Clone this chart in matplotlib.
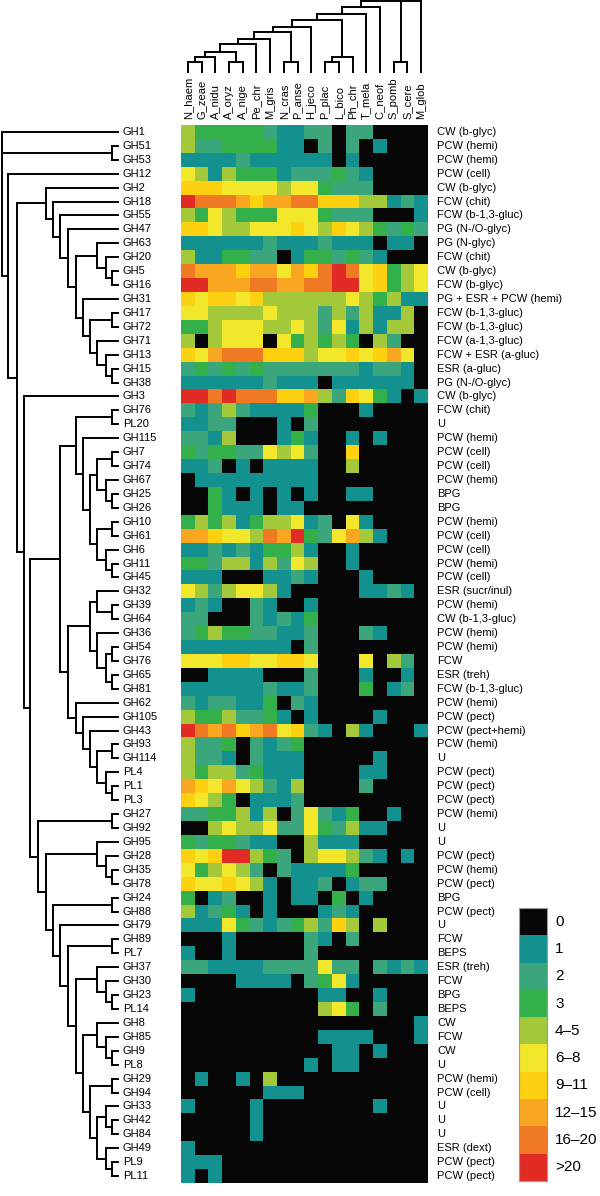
import numpy as np
import matplotlib
matplotlib.use("Agg")
import matplotlib.pyplot as plt
from matplotlib.colors import ListedColormap, BoundaryNorm
from matplotlib.transforms import blended_transform_factory

plt.rcParams['font.family'] = ['Liberation Sans', 'DejaVu Sans']

# --- DATA ---
species = ["N_haem", "G_zeae", "A_nidu", "A_oryz", "A_nige", "Pe_chr", "M_gris",
           "N_cras", "P_anse", "H_jeco", "P_plac", "L_bico", "Ph_chr", "T_mela",
           "C_neof", "S_pomb", "S_cere", "M_glob"]

families = ["GH1", "GH51", "GH53", "GH12", "GH2", "GH18", "GH55", "GH47", "GH63", "GH20",
            "GH5", "GH16", "GH31", "GH17", "GH72", "GH71", "GH13", "GH15", "GH38", "GH3",
            "GH76", "PL20", "GH115", "GH7", "GH74", "GH67", "GH25", "GH26", "GH10", "GH61",
            "GH6", "GH11", "GH45", "GH32", "GH39", "GH64", "GH36", "GH54", "GH76", "GH65",
            "GH81", "GH62", "GH105", "GH43", "GH93", "GH114", "PL4", "PL1", "PL3", "GH27",
            "GH92", "GH95", "GH28", "GH35", "GH78", "GH24", "GH88", "GH79", "GH89", "PL7",
            "GH37", "GH30", "GH23", "PL14", "GH8", "GH85", "GH9", "PL8", "GH29", "GH94",
            "GH33", "GH42", "GH84", "GH49", "PL9", "PL11"]

activities = ["CW (b-glyc)", "PCW (hemi)", "PCW (hemi)", "PCW (cell)", "CW (b-glyc)",
              "FCW (chit)", "FCW (b-1,3-gluc)", "PG (N-/O-glyc)", "PG (N-glyc)", "FCW (chit)",
              "CW (b-glyc)", "FCW (b-glyc)", "PG + ESR + PCW (hemi)", "FCW (b-1,3-gluc)",
              "FCW (b-1,3-gluc)", "FCW (a-1,3-gluc)", "FCW + ESR (a-gluc)", "ESR (a-gluc)",
              "PG (N-/O-glyc)", "CW (b-glyc)", "FCW (chit)", "U", "PCW (hemi)", "PCW (cell)",
              "PCW (cell)", "PCW (hemi)", "BPG", "BPG", "PCW (hemi)", "PCW (cell)",
              "PCW (cell)", "PCW (hemi)", "PCW (cell)", "ESR (sucr/inul)", "PCW (hemi)",
              "CW (b-1,3-gluc)", "PCW (hemi)", "PCW (hemi)", "FCW", "ESR (treh)",
              "FCW (b-1,3-gluc)", "PCW (hemi)", "PCW (pect)", "PCW (pect+hemi)", "PCW (hemi)",
              "U", "PCW (pect)", "PCW (pect)", "PCW (pect)", "PCW (hemi)", "U", "U",
              "PCW (pect)", "PCW (hemi)", "PCW (pect)", "BPG", "PCW (pect)", "U", "FCW",
              "BEPS", "ESR (treh)", "FCW", "BPG", "BEPS", "CW", "FCW", "CW", "U",
              "PCW (hemi)", "PCW (cell)", "U", "U", "U", "ESR (dext)", "PCW (pect)", "PCW (pect)"]

legend_labels = ["0", "1", "2", "3", "4–5", "6–8", "9–11", "12–15", "16–20", ">20"]
class_colors = ["#070707", "#13918f", "#3ba57c", "#34b04b", "#a3c93b",
                "#f2e72b", "#fdd010", "#f9a620", "#f07a23", "#e32b26"]

# gene count class per family (rows) and species (columns), 0..9 = legend bins
cell_class = [
    [4,3,3,3,3,3,2,1,1,2,2,0,2,2,0,0,0,0],  # GH1
    [4,2,2,3,3,3,3,1,1,0,2,0,2,0,1,0,0,0],  # GH51
    [1,1,1,1,2,1,1,1,1,1,1,0,1,0,0,0,0,0],  # GH53
    [5,4,1,4,3,3,3,1,2,2,2,3,2,1,0,0,0,0],  # GH12
    [6,6,6,5,5,5,5,4,5,5,3,2,2,2,0,0,0,0],  # GH2
    [9,8,8,8,7,6,7,7,8,8,6,6,6,4,4,1,2,1],  # GH18
    [4,3,5,4,3,3,3,5,5,5,3,2,2,2,0,0,0,1],  # GH55
    [6,6,5,4,4,5,5,5,6,5,4,6,5,4,3,2,3,2],  # GH47
    [1,1,1,1,1,1,2,1,1,1,2,1,1,1,0,1,1,0],  # GH63
    [4,1,1,3,3,2,2,0,1,3,3,2,3,2,1,0,0,0],  # GH20
    [8,7,7,7,6,7,7,5,7,6,8,9,8,5,6,3,4,5],  # GH5
    [9,9,7,7,7,8,8,7,7,8,8,9,9,5,6,3,4,5],  # GH16
    [6,5,6,6,5,6,4,4,4,4,4,4,5,4,3,4,1,1],  # GH31
    [5,5,4,4,4,4,5,4,4,4,2,4,2,4,1,1,4,0],  # GH17
    [3,3,4,5,5,5,4,4,5,4,2,5,1,4,1,4,4,0],  # GH72
    [4,0,4,5,5,5,0,5,3,4,3,4,3,0,4,2,0,0],  # GH71
    [6,5,7,8,8,8,6,6,6,4,5,5,6,5,6,7,5,0],  # GH13
    [2,3,2,3,2,3,2,2,2,2,2,2,2,1,2,2,1,0],  # GH15
    [1,1,1,1,1,1,2,1,1,1,0,1,1,1,1,1,1,0],  # GH38
    [9,9,8,9,8,8,8,6,6,7,4,2,6,5,3,1,0,1],  # GH3
    [2,1,2,4,2,1,1,1,1,3,0,0,0,1,0,0,0,0],  # GH76
    [1,1,2,2,0,0,0,1,0,2,0,0,0,0,0,0,0,0],  # PL20
    [2,2,1,4,0,0,0,1,3,1,0,0,1,0,1,0,0,0],  # GH115
    [3,2,3,3,2,2,5,4,5,2,0,0,6,0,0,0,0,0],  # GH7
    [1,1,2,0,1,0,1,1,1,1,0,0,4,0,0,0,0,0],  # GH74
    [0,1,1,1,1,1,1,1,1,1,0,0,0,0,0,0,0,0],  # GH67
    [0,0,3,1,0,1,0,1,0,1,0,0,1,1,0,0,0,0],  # GH25
    [0,0,3,1,1,1,0,1,1,0,0,0,0,0,0,0,0,0],  # GH26
    [3,4,3,4,1,3,4,4,5,1,2,0,5,1,0,0,0,0],  # GH10
    [7,7,6,5,5,4,8,7,9,3,2,5,7,4,1,0,0,0],  # GH61
    [1,1,2,1,2,1,3,3,4,1,0,0,1,0,0,0,0,0],  # GH6
    [3,3,2,4,4,1,4,2,5,4,0,0,1,0,0,0,0,0],  # GH11
    [1,1,1,0,0,0,1,1,2,1,0,0,0,1,0,0,0,0],  # GH45
    [5,4,2,4,5,5,4,1,0,0,0,0,0,1,1,2,1,0],  # GH32
    [1,2,1,0,0,2,1,0,0,1,0,0,0,0,0,0,0,0],  # GH39
    [2,2,0,0,0,2,1,2,1,3,0,0,0,0,0,0,0,0],  # GH64
    [2,3,4,3,3,2,2,1,1,2,0,0,0,2,1,0,0,0],  # GH36
    [1,1,1,1,1,1,1,1,0,2,0,0,0,0,0,0,0,0],  # GH54
    [5,5,5,6,6,5,5,6,6,5,0,0,0,5,0,4,2,0],  # GH76
    [0,0,1,1,1,1,0,0,0,2,0,0,0,1,0,0,1,0],  # GH65
    [1,1,1,1,1,1,2,1,1,2,0,0,0,3,0,1,2,0],  # GH81
    [2,1,2,2,1,1,3,0,2,1,0,0,0,0,0,0,0,0],  # GH62
    [4,3,3,4,2,2,3,1,0,1,0,0,0,0,1,0,0,0],  # GH105
    [9,8,7,8,6,7,8,5,6,2,1,0,4,1,0,0,0,1],  # GH43
    [4,2,2,3,0,2,1,2,3,0,0,0,0,0,0,0,0,0],  # GH93
    [4,2,2,1,0,2,1,1,1,0,0,0,0,0,1,0,0,0],  # GH114
    [4,3,4,4,2,3,1,1,1,0,0,0,0,1,1,0,0,0],  # PL4
    [7,6,5,7,5,4,2,1,4,0,0,0,0,2,0,0,0,0],  # PL1
    [6,5,4,3,0,1,1,1,2,0,0,0,0,0,0,0,0,0],  # PL3
    [2,2,3,3,4,1,4,0,2,5,2,1,3,0,0,1,0,0],  # GH27
    [0,0,4,5,4,4,5,2,2,5,3,2,4,1,1,0,0,0],  # GH92
    [3,2,3,3,2,1,1,0,0,4,1,1,1,0,0,0,0,0],  # GH95
    [6,5,6,9,9,4,3,2,0,4,5,5,4,2,1,0,1,0],  # GH28
    [5,3,4,5,4,2,0,2,1,1,1,1,3,0,0,0,0,0],  # GH35
    [6,5,5,6,5,4,1,0,1,1,2,0,1,2,2,0,0,0],  # GH78
    [3,0,1,2,0,0,1,0,1,1,0,3,0,1,0,0,0,0],  # GH24
    [4,1,2,3,1,0,1,0,0,0,1,2,1,0,0,0,0,0],  # GH88
    [1,1,1,5,3,2,1,2,3,4,2,6,4,0,4,0,0,0],  # GH79
    [0,0,0,1,0,0,0,0,0,2,1,0,2,0,0,0,0,0],  # GH89
    [1,0,0,1,0,0,0,0,0,2,0,0,0,0,0,0,0,0],  # PL7
    [2,2,1,1,1,1,2,2,2,2,5,2,2,0,2,1,2,1],  # GH37
    [0,0,0,0,1,1,1,1,0,2,3,5,1,0,0,0,0,0],  # GH30
    [1,0,0,0,0,0,0,0,0,0,1,1,0,0,1,0,0,0],  # GH23
    [0,0,0,0,0,0,0,0,0,0,4,5,3,0,2,0,0,0],  # PL14
    [0,0,0,0,0,0,0,0,0,0,0,0,0,0,0,0,0,1],  # GH8
    [0,0,0,0,0,0,0,0,0,0,1,1,1,1,0,0,0,1],  # GH85
    [0,0,0,0,0,0,0,0,0,0,0,1,1,0,1,0,0,0],  # GH9
    [0,0,0,0,0,0,0,0,0,1,0,1,1,0,0,0,0,0],  # PL8
    [0,1,0,0,1,0,4,0,0,0,0,0,0,0,0,0,0,0],  # GH29
    [0,0,0,0,0,0,1,1,1,0,0,0,0,0,0,0,0,0],  # GH94
    [1,0,0,0,0,1,0,0,0,0,0,0,0,0,1,0,0,0],  # GH33
    [0,0,0,0,0,1,0,0,0,0,0,0,0,0,0,0,0,0],  # GH42
    [0,0,0,0,0,1,0,0,0,0,0,0,0,0,0,0,0,0],  # GH84
    [1,0,0,0,0,0,0,0,0,0,0,0,0,0,0,0,0,0],  # GH49
    [1,1,1,0,0,0,0,0,0,0,0,0,0,0,0,0,0,0],  # PL9
    [1,0,1,0,0,0,0,0,0,0,0,0,0,0,0,0,0,0],  # PL11
]

# dendrograms: [merge height, child, child, ...], leaves are row / column indices
left_tree = [98, 0, [5, 1, 2],
             [93, 3,
              [86,
               [61, 4, [55, 5, [49, 6, [42, 7, [36,
                   [18, 8, [10, 9, [5, 10, 11]]],
                   [30, 12, [24, [5, 13, 14], [18, 15, [10, 16, [5, 17, 18]]]]]]]]]],
               [80, 19,
                [75,
                 [49,
                  [36, [5, 20, 21],
                   [30, 22,
                    [24,
                     [18, [5, 23, 24], [10, 25, [5, 26, 27]]],
                     [18, [5, 28, 29], [10, 30, [5, 31, 32]]]]]],
                  [42,
                   [24,
                    [18, 33, [5, 34, 35]],
                    [18, 36, [10, [5, 37, 38], [5, 39, 40]]]],
                   [36, 41, [30, 42, [24, 43, [18, [5, 44, 45], [10, 46, [5, 47, 48]]]]]]]],
                 [68, [5, 49, 50],
                  [61,
                   [18, 51, [10, 52, [5, 53, 54]]],
                   [55, [5, 55, 56],
                    [49, 57,
                     [42, [5, 58, 59],
                      [36,
                       [18, 60, [10, 61, [5, 62, 63]]],
                       [30,
                        [18, 64, [10, 65, [5, 66, 67]]],
                        [24, [5, 68, 69],
                         [18, [10, 70, [5, 71, 72]], [10, 73, [5, 74, 75]]]]]]]]]]]]]]]]

top_tree = [212,
            [195, [175, [155, [135, [120, [100, [85, [60, [45, [30, 0, 1], 2], [30, 3, 4]], 5], 6],
                                      [30, 7, 8]], 9],
                              [45, [30, 10, 11], 12]], 13], 14],
            [30, 15, 16], 17]

# --- HELPERS ---
W, H = 600, 1196
line_kw = dict(color="black", lw=1.4, solid_capstyle="projecting", clip_on=False)


def box(x0, y0, x1, y1):
    return [x0 / W, 1 - y1 / H, (x1 - x0) / W, (y1 - y0) / H]


def draw_tree(ax, node, leaves_on_y):
    # returns (leaf-axis position, height) of this node
    if isinstance(node, int):
        return node, 0
    h = node[0]
    kids = [draw_tree(ax, c, leaves_on_y) for c in node[1:]]
    for p, hc in kids:
        if leaves_on_y:
            ax.plot([h, hc], [p, p], **line_kw)
        else:
            ax.plot([p, p], [h, hc], **line_kw)
    lo, hi = kids[0][0], kids[-1][0]
    if leaves_on_y:
        ax.plot([h, h], [lo, hi], **line_kw)
    else:
        ax.plot([lo, hi], [h, h], **line_kw)
    return (lo + hi) / 2, h


# --- PLOT ---
fig = plt.figure(figsize=(6, 11.96), dpi=100)

n_rows, n_cols = len(families), len(species)
cmap = ListedColormap(class_colors)
norm = BoundaryNorm(np.arange(-0.5, len(class_colors) + 0.5, 1), cmap.N)

ax = fig.add_axes(box(181, 125, 428, 1183))
ax.imshow(np.array(cell_class), cmap=cmap, norm=norm, aspect="auto", interpolation="nearest")
ax.set_axis_off()

tr = blended_transform_factory(fig.transFigure, ax.transData)
for i in range(n_rows):
    ax.text(123 / W, i, families[i], transform=tr, ha="left", va="center", fontsize=8)
    ax.text(437 / W, i, activities[i], transform=tr, ha="left", va="center", fontsize=8)
for j in range(n_cols):
    ax.text(j, -0.9, species[j], rotation=90, ha="center", va="bottom", fontsize=8)

# left dendrogram (families)
axl = fig.add_axes(box(0, 125, 118, 1183))
draw_tree(axl, left_tree, True)
axl.set_xlim(100, 0)
axl.set_ylim(n_rows - 0.5, -0.5)
axl.set_axis_off()

# top dendrogram (species)
axt = fig.add_axes(box(181, 1, 428, 72))
draw_tree(axt, top_tree, False)
axt.set_xlim(-0.5, n_cols - 0.5)
axt.set_ylim(0, 213)
axt.set_axis_off()

# colour key
axc = fig.add_axes(box(519, 908, 547, 1181))
axc.imshow(np.arange(len(class_colors)).reshape(-1, 1), cmap=cmap, norm=norm,
           aspect="auto", interpolation="nearest")
axc.set_xticks([])
axc.set_yticks([])
for s in axc.spines.values():
    s.set_color("#9a9a9a")
    s.set_linewidth(0.8)
trc = blended_transform_factory(fig.transFigure, axc.transData)
for k, lab in enumerate(legend_labels):
    axc.text(555 / W, k, lab, transform=trc, ha="left", va="center", fontsize=11)

fig.savefig("out.png", dpi=100, facecolor="white")
